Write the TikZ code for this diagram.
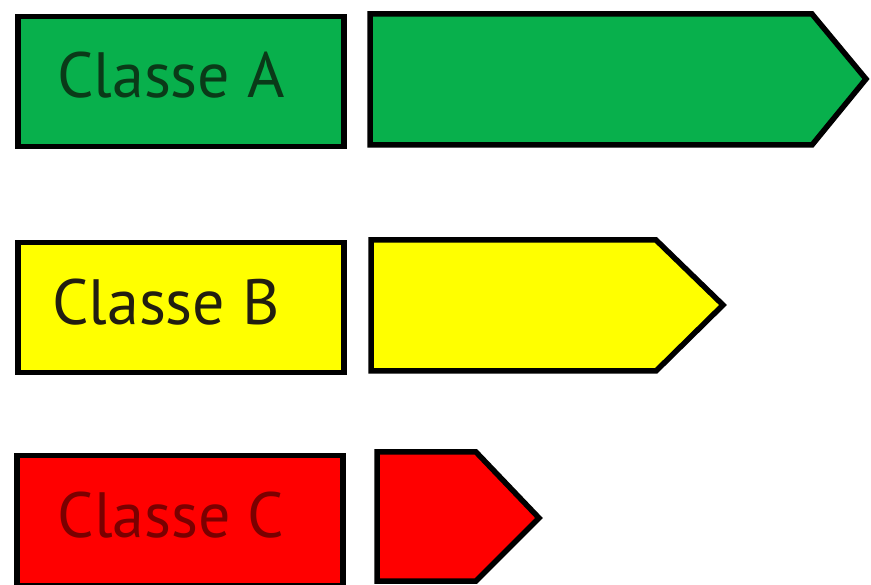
\documentclass[tikz,border=0pt]{standalone}
\usepackage{fontspec}
\setmainfont{PT Sans}
\definecolor{gA}{HTML}{08B04C}
\definecolor{yB}{HTML}{FFFF00}
\definecolor{rC}{HTML}{FF0000}
\definecolor{tA}{HTML}{0A3A18}
\definecolor{tB}{HTML}{221E10}
\definecolor{tC}{HTML}{7A0000}
\begin{document}
\begin{tikzpicture}[x=1pt,y=-1pt,
  box/.style={draw=black,line width=5.5pt,line join=miter,minimum width=326pt,minimum height=130pt,inner sep=0pt,anchor=north west},
  shp/.style={draw=black,line width=5.5pt,line join=miter},
  lbl/.style={font=\fontsize{64}{64}\selectfont,anchor=base,inner sep=0pt}]
\useasboundingbox[fill=white] (0,0) rectangle (871,585);
% row A
\node[box,fill=gA] (boxA) at (15,14) {};
\node[lbl,text=tA] (txtA) at (171,98) {Classe A};
\draw[shp,fill=gA] (370,14) -- (812,14) -- (866,79) -- (812,145) -- (370,145) -- cycle;
% row B
\node[box,fill=yB] (boxB) at (15,240) {};
\node[lbl,text=tB] (txtB) at (166,325) {Classe B};
\draw[shp,fill=yB] (371,240) -- (656,240) -- (723,305) -- (656,371) -- (371,371) -- cycle;
% row C
\node[box,fill=rC] (boxC) at (14,453) {};
\node[lbl,text=tC] (txtC) at (171,537) {Classe C};
\draw[shp,fill=rC] (377,452) -- (476,452) -- (539,518) -- (476,581) -- (377,581) -- cycle;
\end{tikzpicture}
\end{document}
